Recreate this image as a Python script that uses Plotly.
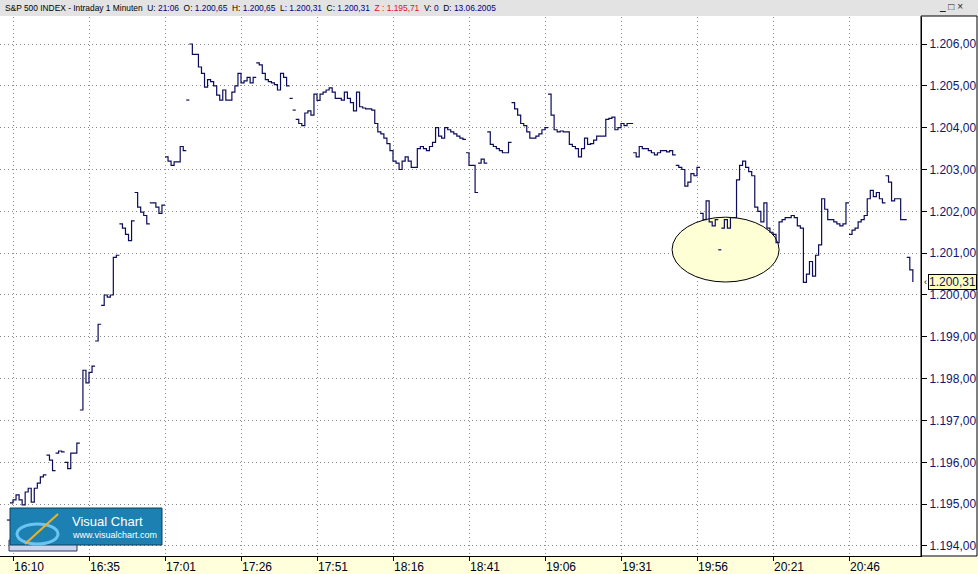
import plotly.graph_objects as go

# ---------------- data ----------------
start_minute = -2  # minutes relative to 16:10
closes = [
    1194.62, 1195.03,
    1195.10, 1195.22, 1195.10, 1194.98, 1195.29, 1195.38, 1195.05, 1195.38, 1195.50, 1195.65,
    1195.70, 1196.17, 1196.05, 1195.80, 1196.22, 1196.27, 1196.25, 1196.00, 1195.85, 1196.22,
    1196.22, 1196.46, 1197.25, 1198.20, 1197.90, 1198.15, 1198.30, 1198.90, 1199.30, 1199.75,
    1200.00, 1199.95, 1200.00, 1200.90, 1200.95, 1201.70, 1201.60, 1201.45, 1201.30, 1201.77,
    1202.45, 1202.10, 1201.98, 1201.90, 1201.70, 1202.20, 1202.20, 1202.10, 1201.95, 1202.15,
    1203.30, 1203.20, 1203.10, 1203.18, 1203.18, 1203.55, 1203.45, 1204.66, 1206.00, 1205.75,
    1205.75, 1205.45, 1205.30, 1204.97, 1205.15, 1205.10, 1205.00, 1204.78, 1204.66, 1204.90,
    1204.66, 1204.66, 1204.85, 1205.00, 1205.30, 1205.07, 1205.12, 1205.20, 1205.07, 1205.20,
    1205.55, 1205.50, 1205.30, 1205.15, 1205.10, 1205.07, 1205.03, 1204.90, 1205.30, 1205.20,
    1205.00, 1204.70, 1204.42, 1204.20, 1204.10, 1204.05, 1204.35, 1204.40, 1204.30, 1204.80,
    1204.65, 1204.80, 1204.85, 1204.90, 1204.95, 1204.85, 1204.70, 1204.70, 1204.66, 1204.85,
    1204.70, 1204.60, 1204.40, 1204.85, 1204.50, 1204.47, 1204.45, 1204.45, 1204.42, 1204.10,
    1203.90, 1203.85, 1203.75, 1203.62, 1203.45, 1203.20, 1203.15, 1203.00, 1203.20, 1203.30,
    1203.20, 1203.05, 1203.05, 1203.50, 1203.55, 1203.50, 1203.45, 1203.55, 1203.65, 1204.00,
    1203.80, 1203.75, 1204.00, 1203.95, 1203.90, 1203.85, 1203.80, 1203.75, 1203.72, 1203.40,
    1203.10, 1203.10, 1202.45, 1203.15, 1203.25, 1203.15, 1203.90, 1203.60, 1203.55, 1203.50,
    1203.45, 1203.40, 1203.40, 1203.65, 1204.60, 1204.45, 1204.30, 1204.10, 1204.05, 1203.90,
    1203.75, 1203.75, 1203.80, 1203.85, 1203.95, 1204.00, 1204.80, 1204.30, 1203.95, 1203.90,
    1203.92, 1203.90, 1203.90, 1203.60, 1203.55, 1203.50, 1203.30, 1203.50, 1203.75, 1203.60,
    1203.62, 1203.70, 1203.80, 1203.80, 1203.80, 1204.20, 1204.22, 1204.25, 1203.95, 1204.00,
    1204.10, 1204.05, 1204.10, 1204.10, 1203.40, 1203.30, 1203.55, 1203.50, 1203.50, 1203.45,
    1203.40, 1203.35, 1203.40, 1203.45, 1203.45, 1203.42, 1203.45, 1203.35, 1203.10, 1203.05,
    1203.00, 1202.60, 1202.70, 1202.90, 1202.85, 1203.05, 1201.95, 1201.80, 1202.25, 1201.75,
    1201.65, 1201.80, 1201.08, 1201.60, 1201.80, 1201.60, 1201.85, 1201.85, 1202.75, 1203.10,
    1203.20, 1203.05, 1202.95, 1202.85, 1202.10, 1202.00, 1201.75, 1202.20, 1201.60, 1201.50,
    1201.45, 1201.25, 1201.75, 1201.80, 1201.85, 1201.85, 1201.90, 1201.85, 1201.65, 1201.60,
    1200.30, 1200.50, 1200.80, 1200.45, 1200.95, 1201.20, 1202.30, 1202.05, 1201.80, 1201.80,
    1201.75, 1201.70, 1201.65, 1201.70, 1202.20, 1201.45, 1201.55, 1201.60, 1201.75, 1201.80,
    1201.90, 1202.30, 1202.50, 1202.35, 1202.45, 1202.30, 1202.20, 1202.85, 1202.70, 1202.25,
    1202.30, 1202.30, 1201.80, 1201.80, 1200.90, 1200.60, 1200.31,
]
# minutes where the new bar did not open at the previous close (visible breaks)
gap_minutes = [-1, 11, 14, 17, 22, 27, 29, 35, 40, 45, 50, 57, 58, 80, 91, 92, 93,
               149, 153, 156, 164, 176, 204, 218, 226, 232, 233, 275, 287, 294]

tick_minutes = [0, 25, 50, 75, 100, 125, 150, 175, 200, 225, 250, 275]
tick_labels = ["16:10", "16:35", "17:01", "17:26", "17:51", "18:16",
               "18:41", "19:06", "19:31", "19:56", "20:21", "20:46"]
price_ticks = [1194, 1195, 1196, 1197, 1198, 1199, 1200, 1201, 1202, 1203, 1204, 1205, 1206]
price_labels = ["1.194,00", "1.195,00", "1.196,00", "1.197,00", "1.198,00", "1.199,00",
                "1.200,00", "1.201,00", "1.202,00", "1.203,00", "1.204,00", "1.205,00", "1.206,00"]

header_title = "S&amp;P 500 INDEX - Intraday 1 Minuten"
header_labels = ["U:", "O:", "H:", "L:", "C:", "Z :", "V:", "D:"]
header_values = ["21:06", "1.200,65", "1.200,65", "1.200,31", "1.200,31", "1.195,71", "0", "13.06.2005"]
last_price = 1200.31
last_label = "1.200,31"

# ---------------- geometry ----------------
W, H = 978, 574
ML, MR, MT, MB = 0, 57, 17, 18
PW, PH = W - ML - MR, H - MT - MB
BOTTOM = H - MB


def pxx(x):
    return (x - ML) / PW


def pxy(y):
    return (BOTTOM - y) / PH


NAVY = "#14146e"
LINE = "#0c0c5c"
FONT = "Liberation Sans, Arial, sans-serif"

# build step line with breaks
xs, ys = [], []
minutes = list(range(start_minute, start_minute + len(closes)))
for k, (m, c) in enumerate(zip(minutes, closes)):
    if m in gap_minutes and k > 0:
        xs += [m, None]
        ys += [closes[k - 1], None]
    xs.append(m)
    ys.append(c)

fig = go.Figure()
fig.add_trace(go.Scatter(
    x=xs, y=ys, mode="lines", line=dict(shape="hv", color=LINE, width=1.2),
    connectgaps=False, hoverinfo="skip", showlegend=False,
))

shapes = []
# header bar
shapes.append(dict(type="rect", xref="paper", yref="paper", x0=0, x1=pxx(W), y0=pxy(16), y1=pxy(0),
                   fillcolor="#e3e3e3", line=dict(width=0), layer="below"))
# bottom strip
shapes.append(dict(type="rect", xref="paper", yref="paper", x0=0, x1=pxx(W), y0=pxy(H), y1=pxy(BOTTOM + 1),
                   fillcolor="#ffffdc", line=dict(width=0), layer="below"))
# right axis panel border
shapes.append(dict(type="rect", xref="paper", yref="paper", x0=pxx(921), x1=pxx(977), y0=pxy(BOTTOM), y1=pxy(16),
                   fillcolor="rgba(0,0,0,0)", line=dict(color="black", width=1), layer="below"))
# highlight ellipse (data coordinates)
shapes.append(dict(type="circle", xref="x", yref="y", x0=216.8, x1=252.0, y0=1200.31, y1=1201.86,
                   fillcolor="#ffffd6", line=dict(color="black", width=1), layer="between"))
# logo
shapes.append(dict(type="rect", xref="paper", yref="paper", x0=pxx(9), x1=pxx(77), y0=pxy(551), y1=pxy(540),
                   fillcolor="#cad6f0", line=dict(color="#333355", width=1), layer="above"))
shapes.append(dict(type="rect", xref="paper", yref="paper", x0=pxx(10), x1=pxx(162), y0=pxy(545), y1=pxy(508),
                   fillcolor="#1d80b2", line=dict(color="#0e3f5c", width=1), layer="above"))
shapes.append(dict(type="circle", xref="paper", yref="paper", x0=pxx(17), x1=pxx(58), y0=pxy(544), y1=pxy(524),
                   fillcolor="rgba(0,0,0,0)", line=dict(color="#6cc4f0", width=3), layer="above"))
shapes.append(dict(type="line", xref="paper", yref="paper", x0=pxx(25), x1=pxx(58), y0=pxy(544), y1=pxy(514),
                   line=dict(color="#f2b02a", width=2), layer="above"))

annotations = []
# header text: one line, label black, values navy, Z in red
parts = [header_title]
for lab, val in zip(header_labels, header_values):
    if lab.startswith("Z"):
        parts.append(f"<span style='color:#e01010'>{lab} {val}</span>")
    else:
        parts.append(f"{lab} <span style='color:#000080'>{val}</span>")
header_text = "&nbsp; ".join(parts)
annotations.append(dict(xref="paper", yref="paper", x=pxx(3), y=pxy(8), xanchor="left", yanchor="middle",
                        text=header_text, showarrow=False,
                        font=dict(family=FONT, size=8.4, color="black")))
# window buttons
annotations.append(dict(xref="paper", yref="paper", x=pxx(937), y=pxy(7), xanchor="left", yanchor="middle",
                        text="<u>_</u> □ ×", showarrow=False, font=dict(family=FONT, size=10, color="#222")))
# last price marker
annotations.append(dict(xref="paper", yref="y", x=pxx(928), y=last_price, xanchor="left", yanchor="middle",
                        text=last_label, showarrow=False, bgcolor="#ffffc0", bordercolor="black",
                        borderwidth=1, borderpad=0, font=dict(family=FONT, size=12, color=NAVY)))
annotations.append(dict(xref="paper", yref="y", x=pxx(922), y=last_price, xanchor="left", yanchor="middle",
                        text="‹", showarrow=False, font=dict(family=FONT, size=9, color="black")))
# logo text
annotations.append(dict(xref="paper", yref="paper", x=pxx(70), y=pxy(521), xanchor="left", yanchor="middle",
                        text="Visual Chart", showarrow=False, font=dict(family=FONT, size=13, color="white")))
annotations.append(dict(xref="paper", yref="paper", x=pxx(70), y=pxy(535), xanchor="left", yanchor="middle",
                        text="www.visualchart.com", showarrow=False, font=dict(family=FONT, size=9, color="white")))

x_lo = (0 - 13) / 3.04
x_hi = (PW - 13) / 3.04
ppu = 41.83
y_hi = 1206 + (44 - MT) / ppu
y_lo = 1206 - (BOTTOM - 44) / ppu

fig.update_layout(
    width=W, height=H,
    margin=dict(l=ML, r=MR, t=MT, b=MB, pad=0),
    paper_bgcolor="white", plot_bgcolor="rgba(0,0,0,0)",
    showlegend=False,
    shapes=shapes, annotations=annotations,
    xaxis=dict(range=[x_lo, x_hi], tickmode="array", tickvals=tick_minutes, ticktext=tick_labels,
               showgrid=True, gridcolor="#8a8a8a", griddash="1px,3px", gridwidth=1,
               showline=True, linecolor="black", linewidth=1, zeroline=False,
               ticks="outside", ticklen=4, tickcolor="black",
               ticklabelposition="outside right",
               tickfont=dict(family=FONT, size=12, color="#000022"), fixedrange=True),
    yaxis=dict(range=[y_lo, y_hi], side="right", tickmode="array", tickvals=price_ticks, ticktext=price_labels,
               showgrid=True, gridcolor="#8a8a8a", griddash="1px,3px", gridwidth=1,
               showline=True, linecolor="black", linewidth=1, zeroline=False,
               ticks="outside", ticklen=5, tickcolor="black",
               tickfont=dict(family=FONT, size=12, color=NAVY), fixedrange=True),
)

fig.write_html("out.html", config={"displayModeBar": False},
               post_script="document.body.style.margin='0px';document.body.style.overflow='hidden';")
